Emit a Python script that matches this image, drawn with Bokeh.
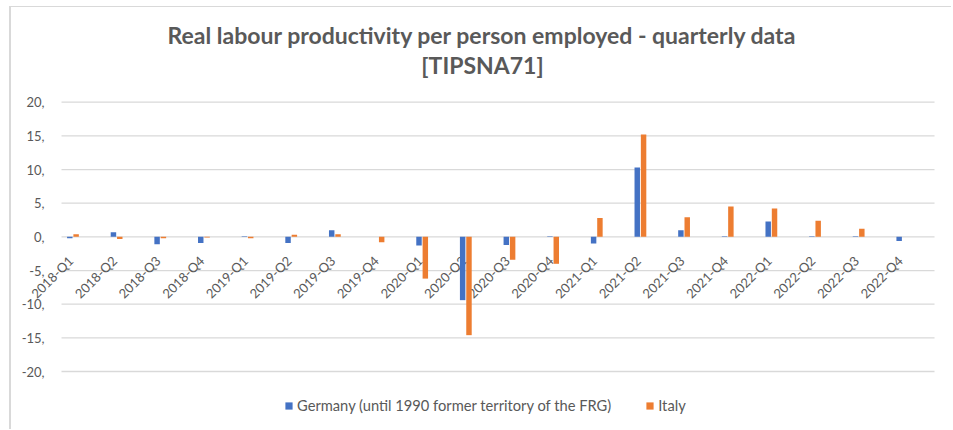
import numpy as np
from math import pi
from bokeh.plotting import figure
from bokeh.models import ColumnDataSource, Range1d, Title, Legend, LegendItem
from bokeh.core.properties import value
from bokeh.embed import file_html
from bokeh.resources import INLINE

quarters = ["2018-Q1", "2018-Q2", "2018-Q3", "2018-Q4", "2019-Q1", "2019-Q2", "2019-Q3", "2019-Q4",
            "2020-Q1", "2020-Q2", "2020-Q3", "2020-Q4", "2021-Q1", "2021-Q2", "2021-Q3", "2021-Q4",
            "2022-Q1", "2022-Q2", "2022-Q3", "2022-Q4"]
germany = [-0.2, 0.7, -1.1, -0.9, 0.1, -0.9, 1.0, 0.0, -1.3, -9.4, -1.2, 0.1, -1.0, 10.3, 1.0, 0.1,
           2.3, 0.1, 0.1, -0.6]
italy = [0.4, -0.3, -0.2, -0.1, -0.2, 0.3, 0.4, -0.8, -6.2, -14.6, -3.4, -4.0, 2.8, 15.2, 2.9, 4.5,
         4.2, 2.4, 1.2, np.nan]
y_ticks = [-20, -15, -10, -5, 0, 5, 10, 15, 20]
y_tick_labels = ["-20,", "-15,", "-10,", "-5,", "0,", "5,", "10,", "15,", "20,"]
series_names = ["Germany (until 1990 former territory of the FRG)", "Italy"]
series_colors = ["#4472C4", "#ED7D31"]
title_lines = ["Real labour productivity per person employed - quarterly data", "[TIPSNA71]"]

n = len(quarters)
pos = np.arange(n) + 0.5          # category centres on a unit-per-category scale
source = ColumnDataSource(data=dict(q=quarters, pos=pos,
                                    de=np.array(germany, dtype=float),
                                    it=np.array(italy, dtype=float),
                                    de_x=pos - 0.31, it_x=pos - 0.165,
                                    # label anchor: a little left of the category centre,
                                    # hanging below the zero line
                                    lab_x=pos - 0.286, lab_y=np.zeros(n) - 3.19))
ticks_src = ColumnDataSource(data=dict(y=y_ticks, lab=y_tick_labels,
                                       x0=[0] * len(y_ticks), x1=[n] * len(y_ticks)))

FONT = "Lato"
GREY_TXT = "#595959"
GRID = "#D9D9D9"

# frame covers the whole drawing area below the title, so nothing gets clipped
p = figure(width=942, height=423, x_range=Range1d(-1.1455, 20.435), y_range=Range1d(-28.76, 21.74),
           output_backend="svg", toolbar_location=None,
           min_border_left=0, min_border_right=0, min_border_top=83, min_border_bottom=0)
p.title = None
p.axis.visible = False
p.grid.visible = False
p.outline_line_color = None

# horizontal grid lines (the zero line doubles as the category axis)
p.segment(x0="x0", x1="x1", y0="y", y1="y", source=ticks_src, line_color=GRID, line_width=1.3)
# value-axis labels
p.text(x="x0", y="y", text="lab", source=ticks_src, x_offset=-17, text_align="right",
       text_baseline="middle", text_font=value(FONT), text_font_size="13px", text_color=GREY_TXT)

# category labels, rotated like the original
p.text(x="lab_x", y="lab_y", text="q", source=source, angle=pi / 4, text_align="right",
       text_baseline="middle", text_font=value(FONT), text_font_size="13px", text_color=GREY_TXT)

r1 = p.vbar(x="de_x", top="de", bottom=0, width=0.125, source=source,
            fill_color=series_colors[0], line_color=None)
r2 = p.vbar(x="it_x", top="it", bottom=0, width=0.125, source=source,
            fill_color=series_colors[1], line_color=None)

t2 = Title(text=title_lines[1], align="center", text_font=FONT, text_font_size="23px",
           text_font_style="bold", text_color=GREY_TXT, standoff=24, offset=-1)
t1 = Title(text=title_lines[0], align="center", text_font=FONT, text_font_size="23px",
           text_font_style="bold", text_color=GREY_TXT, standoff=-24, offset=-1)
p.add_layout(t2, "above")
p.add_layout(t1, "above")

legend = Legend(items=[LegendItem(label=series_names[0], renderers=[r1]),
                       LegendItem(label=series_names[1], renderers=[r2])],
                orientation="horizontal", location=(273, 16),
                glyph_width=9, glyph_height=9, label_standoff=4, spacing=34,
                label_text_font=FONT, label_text_font_size="14.7px", label_text_color=GREY_TXT,
                border_line_color=None, background_fill_alpha=0, padding=0, margin=0)
p.add_layout(legend, "center")

# chart-area border as in the original (left and top edges)
p.styles = {"margin-left": "9px", "margin-top": "6px",
            "border-left": "2px solid #D9D9D9", "border-top": "1px solid #D9D9D9"}

open("out.html", "w").write(file_html(p, INLINE))
